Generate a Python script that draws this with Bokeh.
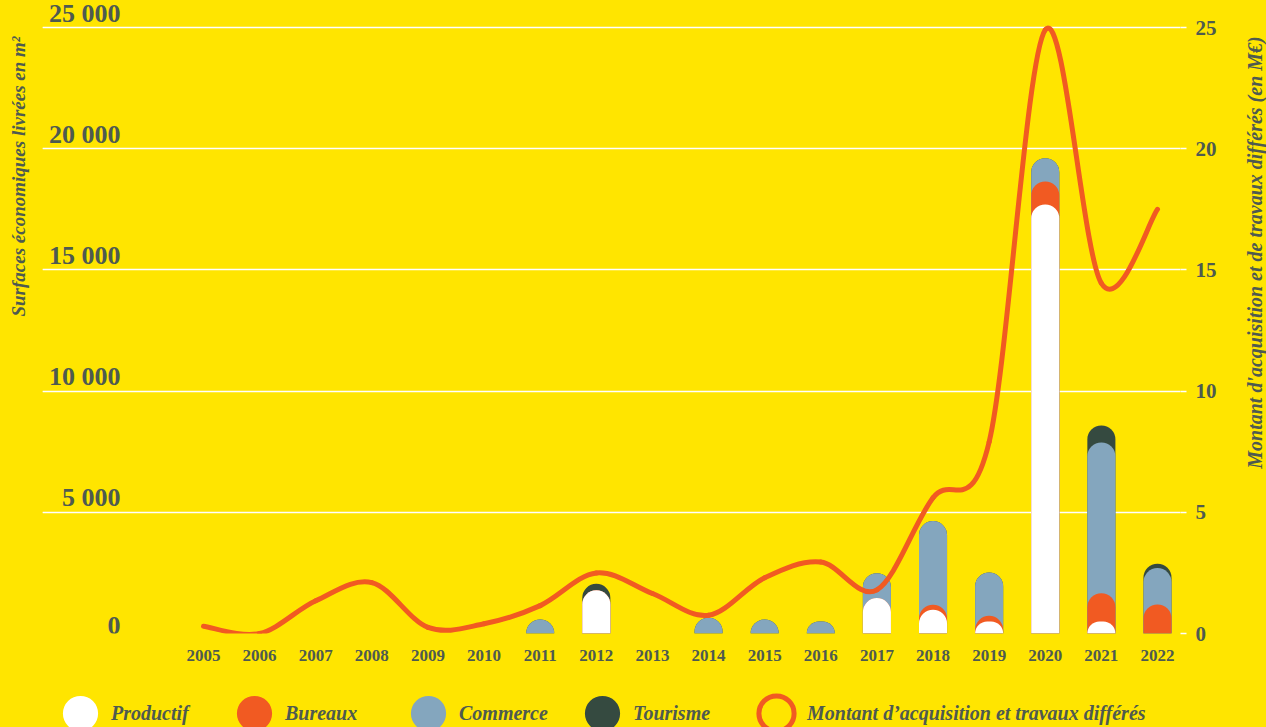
import math
from bokeh.plotting import figure
from bokeh.layouts import column
from bokeh.models import (Range1d, LinearAxis, FixedTicker, Label, Legend,
                          LegendItem, ColumnDataSource, Grid)
from bokeh.core.properties import value
from bokeh.embed import file_html
from bokeh.resources import INLINE

# ---------------- data ----------------
years = list(range(2005, 2023))
productif = [0, 0, 0, 0, 0, 0, 0, 1780, 0, 0, 0, 0, 1460, 980, 500, 17700, 500, 0]
bureaux   = [0, 0, 0, 0, 0, 0, 0, 0, 0, 0, 0, 0, 0, 210, 230, 950, 1160, 1200]
commerce  = [0, 0, 0, 0, 0, 0, 580, 0, 0, 650, 580, 500, 1030, 3450, 1790, 960, 6220, 1500]
tourisme  = [0, 0, 0, 0, 0, 0, 0, 270, 0, 0, 0, 0, 0, 0, 0, 0, 700, 180]
montant   = [0.3, 0.0, 1.35, 2.1, 0.25, 0.4, 1.15, 2.5, 1.65, 0.75, 2.3, 2.95,
             1.8, 5.6, 7.9, 24.9, 14.45, 17.5]

left_ticks = [0, 5000, 10000, 15000, 20000, 25000]
left_tick_labels = ["0", "5 000", "10 000", "15 000", "20 000", "25 000"]
right_ticks = [0, 5, 10, 15, 20, 25]

series_names = ["Productif", "Bureaux", "Commerce", "Tourisme"]
line_name = "Montant d\u2019acquisition et travaux diff\u00e9r\u00e9s"
left_title = "Surfaces \u00e9conomiques livr\u00e9es en m\u00b2"
right_title = "Montant d'acquisition et de travaux diff\u00e9r\u00e9s (en M\u20ac)"

# ---------------- style ----------------
YEL = "#FFE500"
TXT = "#4e5a50"
ORANGE = "#F15A22"
BLUE = "#84A6BE"
DARK = "#354A40"
WHITE = "#FFFFFF"
FONT = "Liberation Serif"
BG_STYLE = {"background-color": YEL}

W = 1266
H_MAIN = 667
H_LEG = 60

p = figure(width=W, height=H_MAIN, output_backend="svg", toolbar_location=None,
           x_range=Range1d(2002.131, 2022.41), y_range=Range1d(0, 26114),
           y_axis_location=None,
           min_border_left=42, min_border_right=86, min_border_top=0,
           min_border_bottom=34)
p.background_fill_color = YEL
p.border_fill_color = YEL
p.outline_line_color = None
p.xgrid.visible = False
p.styles = BG_STYLE

p.add_layout(Grid(dimension=1, ticker=FixedTicker(ticks=left_ticks),
                  grid_line_color="white", grid_line_width=1.6))

# x axis
xa = p.xaxis[0]
xa.ticker = FixedTicker(ticks=years)
xa.major_label_text_font = FONT
xa.major_label_text_font_style = "bold"
xa.major_label_text_font_size = "17px"
xa.major_label_text_color = TXT
xa.axis_line_color = None
xa.major_tick_line_color = None
xa.minor_tick_line_color = None
xa.major_label_standoff = 10

# right axis
p.extra_y_ranges = {"m": Range1d(0, 26.114)}
ra = LinearAxis(y_range_name="m", ticker=FixedTicker(ticks=right_ticks))
ra.major_label_text_font = FONT
ra.major_label_text_font_style = "bold"
ra.major_label_text_font_size = "21px"
ra.major_label_text_color = TXT
ra.axis_line_color = None
ra.major_tick_line_color = "white"
ra.major_tick_line_width = 1.6
ra.major_tick_in = 0
ra.major_tick_out = 6
ra.minor_tick_line_color = None
ra.major_label_standoff = 9
p.add_layout(ra, "right")

# cumulative stacks (each drawn from zero, rounded top)
c1 = productif
c2 = [a + b for a, b in zip(c1, bureaux)]
c3 = [a + b for a, b in zip(c2, commerce)]
c4 = [a + b for a, b in zip(c3, tourisme)]
src = ColumnDataSource(dict(x=years, c1=c1, c2=c2, c3=c3, c4=c4))
rad = (14, 14, 0, 0)
for col, color in (("c4", DARK), ("c3", BLUE), ("c2", ORANGE), ("c1", WHITE)):
    p.vbar(x="x", width=0.5, bottom=0, top=col, source=src,
           fill_color=color, line_color=None, border_radius=rad)

# smooth line (Catmull-Rom drawn as cubic Bezier segments)
n = len(years)
bx0, by0, bx1, by1, cx0, cy0, cx1, cy1 = ([] for _ in range(8))
for i in range(n - 1):
    xp, yp = (years[i - 1], montant[i - 1]) if i > 0 else (years[i], montant[i])
    xn, yn = (years[i + 2], montant[i + 2]) if i + 2 < n else (years[i + 1], montant[i + 1])
    xa0, ya0 = years[i], montant[i]
    xa1, ya1 = years[i + 1], montant[i + 1]
    bx0.append(xa0); by0.append(ya0); bx1.append(xa1); by1.append(ya1)
    cx0.append(xa0 + (xa1 - xp) / 6.0); cy0.append(ya0 + (ya1 - yp) / 6.0)
    cx1.append(xa1 - (xn - xa0) / 6.0); cy1.append(ya1 - (yn - ya0) / 6.0)
p.bezier(x0=bx0, y0=by0, x1=bx1, y1=by1, cx0=cx0, cy0=cy0, cx1=cx1, cy1=cy1,
         line_color=ORANGE, line_width=5, line_cap="round", y_range_name="m")

# left tick labels, sitting above the grid lines
p.text(x=[2003.52] * len(left_ticks), y=left_ticks, text=left_tick_labels,
       text_font=value(FONT), text_font_style="bold", text_font_size="26px",
       text_color=TXT, text_align="right", text_baseline="bottom")

# axis titles (placed in the side panels so they are not clipped to the frame)
p.add_layout(Label(x=18, y=176, x_units="canvas", y_units="canvas",
                   text=left_title, angle=math.pi / 2, text_align="center",
                   text_baseline="middle", text_font=FONT,
                   text_font_style="bold italic", text_font_size="19px",
                   text_color=TXT), "left")
p.add_layout(Label(x=1254, y=252, x_units="canvas", y_units="canvas",
                   text=right_title, angle=math.pi / 2, text_align="center",
                   text_baseline="middle", text_font=FONT,
                   text_font_style="bold italic", text_font_size="20px",
                   text_color=TXT), "right")

# ---------------- legend strip ----------------
lg = figure(width=W, height=H_LEG, output_backend="svg", toolbar_location=None,
            x_range=Range1d(0, 1), y_range=Range1d(0, 1),
            x_axis_location=None, y_axis_location=None,
            min_border=0)
lg.background_fill_color = YEL
lg.border_fill_color = YEL
lg.outline_line_color = None
lg.xgrid.visible = False
lg.ygrid.visible = False
lg.styles = BG_STYLE

swatch_x = [-5]
swatch_y = [-5]
legend_items = []
for name, color in zip(series_names, (WHITE, ORANGE, BLUE, DARK)):
    r = lg.ellipse(x=swatch_x, y=swatch_y, width=10, height=10,
                   width_units="screen", height_units="screen",
                   fill_color=color, line_color=None)
    legend_items.append(LegendItem(label=name, renderers=[r]))
ring = lg.ellipse(x=swatch_x, y=swatch_y, width=10, height=10,
                  width_units="screen", height_units="screen",
                  fill_color=None, line_color=ORANGE, line_width=5)
legend_items.append(LegendItem(label=line_name, renderers=[ring]))

legend = Legend(items=legend_items, orientation="horizontal", location=(16, -8),
                glyph_width=44, glyph_height=44, label_standoff=9,
                label_width=121, spacing=0, padding=0, margin=0,
                border_line_color=None, background_fill_alpha=0,
                label_text_font=FONT, label_text_font_style="bold italic",
                label_text_font_size="20px", label_text_color=TXT)
lg.add_layout(legend)

layout = column(p, lg, spacing=0)
layout.styles = BG_STYLE
html = file_html(layout, INLINE)
html = html.replace("<body>", '<body style="background-color:%s;">' % YEL, 1)
open("out.html", "w").write(html)
